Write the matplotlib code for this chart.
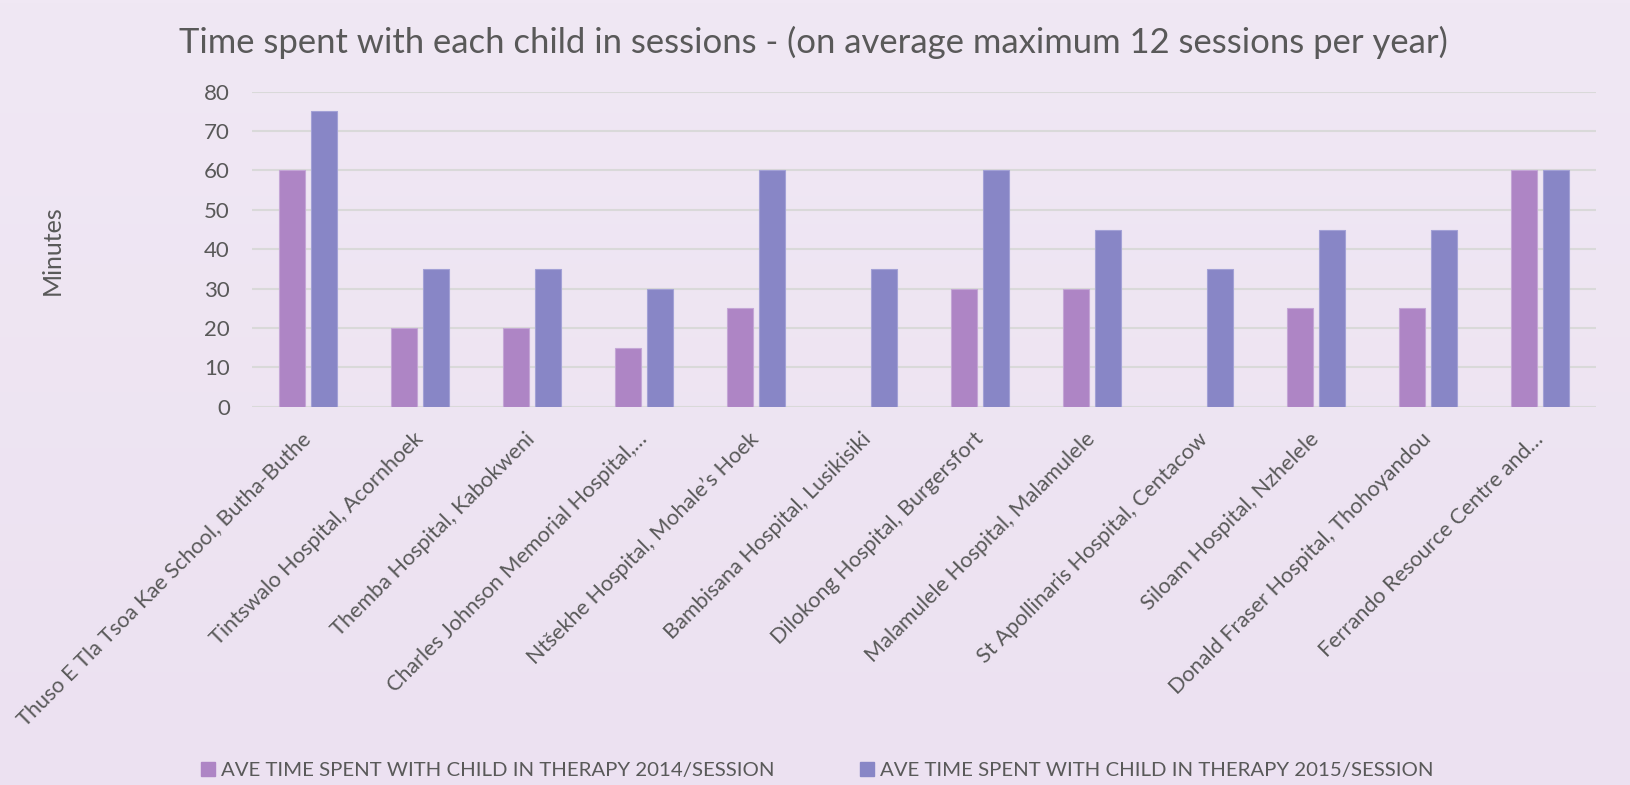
import numpy as np
import matplotlib
matplotlib.use("Agg")
import matplotlib.pyplot as plt
from matplotlib.patches import Patch

plt.rcParams['font.family'] = ['Lato', 'DejaVu Sans']

categories = [
    "Thuso E Tla Tsoa Kae School, Butha-Buthe",
    "Tintswalo Hospital, Acornhoek",
    "Themba Hospital, Kabokweni",
    "Charles Johnson Memorial Hospital,…",
    "Ntšekhe Hospital, Mohale’s Hoek",
    "Bambisana Hospital, Lusikisiki",
    "Dilokong Hospital, Burgersfort",
    "Malamulele Hospital, Malamulele",
    "St Apollinaris Hospital, Centacow",
    "Siloam Hospital, Nzhelele",
    "Donald Fraser Hospital, Thohoyandou",
    "Ferrando Resource Centre and…",
]
time_2014 = [60, 20, 20, 15, 25, np.nan, 30, 30, np.nan, 25, 25, 60]
time_2015 = [75, 35, 35, 30, 60, 35, 60, 45, 35, 45, 45, 60]
series_names = ["AVE TIME SPENT WITH CHILD IN THERAPY 2014/SESSION",
                "AVE TIME SPENT WITH CHILD IN THERAPY 2015/SESSION"]

c14 = "#AE85C5"
c15 = "#8886C6"
txt = "#595959"

fig = plt.figure(figsize=(16.31, 7.85), dpi=100)

# background gradient
bg = fig.add_axes([0, 0, 1, 1], zorder=-10)
grad = np.linspace(0, 1, 256)[:, None]
top = np.array([240, 232, 244]) / 255
bot = np.array([236, 225, 241]) / 255
img = top[None, None, :] * (1 - grad[:, :, None]) + bot[None, None, :] * grad[:, :, None]
bg.imshow(img, aspect="auto", extent=[0, 1, 0, 1])
bg.axis("off")

ax = fig.add_axes([0.1545, 0.4819, 0.8241, 0.4013])
ax.patch.set_alpha(0)

x = np.arange(len(categories))
w = 0.226
gap = 0.06
ax.bar(x - (w + gap) / 2, time_2014, w, color=c14, edgecolor="#C4A6D6", linewidth=0.8, zorder=3)
ax.bar(x + (w + gap) / 2, time_2015, w, color=c15, edgecolor="#A3A1D6", linewidth=0.8, zorder=3)

ax.set_xlim(-0.5, len(categories) - 0.5)
ax.set_ylim(0, 80)
ax.set_yticks(range(0, 81, 10))
ax.yaxis.grid(True, color="#D9D9D9", linewidth=1.5, zorder=0)
for s in ax.spines.values():
    s.set_visible(False)
ax.tick_params(axis="both", length=0, colors=txt)
ax.tick_params(axis="y", pad=16, labelsize=16)
ax.tick_params(axis="x", pad=21)
ax.set_xticks(x)
ax.set_xticklabels(categories, rotation=45, ha="right", va="center",
                   rotation_mode="anchor", fontsize=15.6, color=txt)

fig.text(0.499, 0.946, "Time spent with each child in sessions - (on average maximum 12 sessions per year)",
         ha="center", va="center", fontsize=24.9, color=txt)
fig.text(0.0319, 0.6815, "Minutes", rotation=90, ha="center", va="center", fontsize=18, color=txt)

handles = [Patch(color=c14), Patch(color=c15)]
fig.legend(handles, series_names, loc="center", bbox_to_anchor=(0.501, 0.018), ncol=2,
           frameon=False, fontsize=14.7, labelcolor=txt, handlelength=0.69, handleheight=0.69,
           handletextpad=0.3, columnspacing=4.2)

fig.savefig("out.png", dpi=100)
